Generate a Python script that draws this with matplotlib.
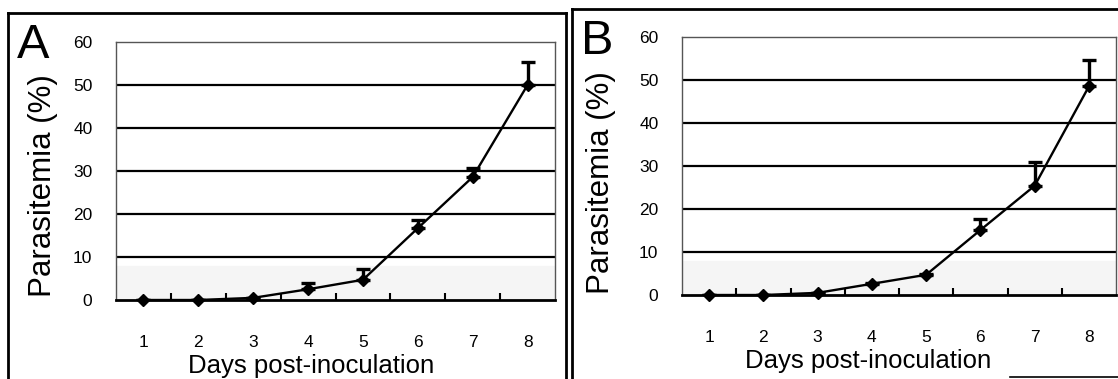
import matplotlib
matplotlib.use("Agg")
import matplotlib.pyplot as plt
from matplotlib.lines import Line2D

plt.rcParams['font.family'] = ['Liberation Sans', 'DejaVu Sans']

days = [1, 2, 3, 4, 5, 6, 7, 8]
day_labels = ['1', '2', '3', '4', '5', '6', '7', '8']
yticks = [0, 10, 20, 30, 40, 50, 60]

parasitemia_A = [0.0, 0.0, 0.5, 2.5, 4.7, 16.7, 28.6, 50.0]
upper_err_A = [0.0, 0.0, 0.0, 1.4, 2.5, 1.9, 2.0, 5.3]

parasitemia_B = [0.0, 0.0, 0.5, 2.6, 4.7, 15.1, 25.4, 48.5]
upper_err_B = [0.0, 0.0, 0.0, 0.2, 0.3, 2.6, 5.6, 6.1]

W, H = 1118, 379
fig = plt.figure(figsize=(W / 100, H / 100), dpi=100)


def px(x0, y0, x1, y1):
    return [x0 / W, 1 - y1 / H, (x1 - x0) / W, (y1 - y0) / H]


def panel(rect, vals, errs, letter, letter_xy, xlab_x, ylab_xy):
    ax = fig.add_axes(rect)
    ax.set_xlim(0.5, 8.5)
    ax.set_ylim(0, 60)
    ax.axhspan(0, 8, color='#f5f5f5', zorder=0)
    for yv in yticks[1:-1]:
        ax.axhline(yv, color='black', lw=1.6, zorder=1)
    ax.errorbar(days, vals, yerr=[[0] * len(errs), errs], fmt='none',
                ecolor='black', elinewidth=2.4, capsize=5, capthick=2.4, zorder=3)
    ax.plot(days, vals, color='black', lw=1.7, marker='D', markersize=6,
            markerfacecolor='black', zorder=4, clip_on=False)
    ax.set_xticks(days)
    ax.set_xticklabels(day_labels)
    ax.set_xticks([d + 0.5 for d in days[:-1]], minor=True)
    ax.tick_params(axis='x', which='major', length=0, pad=25, labelsize=12.5)
    ax.tick_params(axis='x', which='minor', direction='in', length=5, width=1.5, color='black')
    ax.set_yticks(yticks)
    ax.tick_params(axis='y', length=0, pad=17, labelsize=12.5)
    for s in ['left', 'right', 'top']:
        ax.spines[s].set_color('#555555')
        ax.spines[s].set_linewidth(1.0)
    ax.spines['bottom'].set_color('black')
    ax.spines['bottom'].set_linewidth(2.0)
    ax.set_xlabel('Days post-inoculation', fontsize=18.5)
    ax.xaxis.set_label_coords(xlab_x, -0.255)
    ax.xaxis.label.set_va('center')
    ax.set_ylabel('Parasitemia (%)', fontsize=22.5)
    ax.yaxis.set_label_coords(*ylab_xy)
    ax.yaxis.label.set_va('center')
    fig.text(letter_xy[0] / W, 1 - letter_xy[1] / H, letter, fontsize=35,
             ha='center', va='center')
    return ax


panel(px(116, 42, 555, 300), parasitemia_A, upper_err_A, 'A', (33, 46),
      0.444, (-0.166, 0.445))
panel(px(682, 37, 1116, 295), parasitemia_B, upper_err_B, 'B', (597, 41),
      0.43, (-0.187, 0.435))

# panel frames
def fline(xs, ys, lw=2.0):
    fig.add_artist(Line2D([x / W for x in xs], [1 - y / H for y in ys],
                         color='black', lw=lw))

fline([8, 566], [13, 13])
fline([8, 8], [13, 379])
fline([566, 566], [13, 379])
fline([572, 1118], [9, 9])
fline([572, 572], [9, 379])
fline([1010, 1118], [377, 377], lw=1.2)

fig.savefig('out.png', dpi=100)
